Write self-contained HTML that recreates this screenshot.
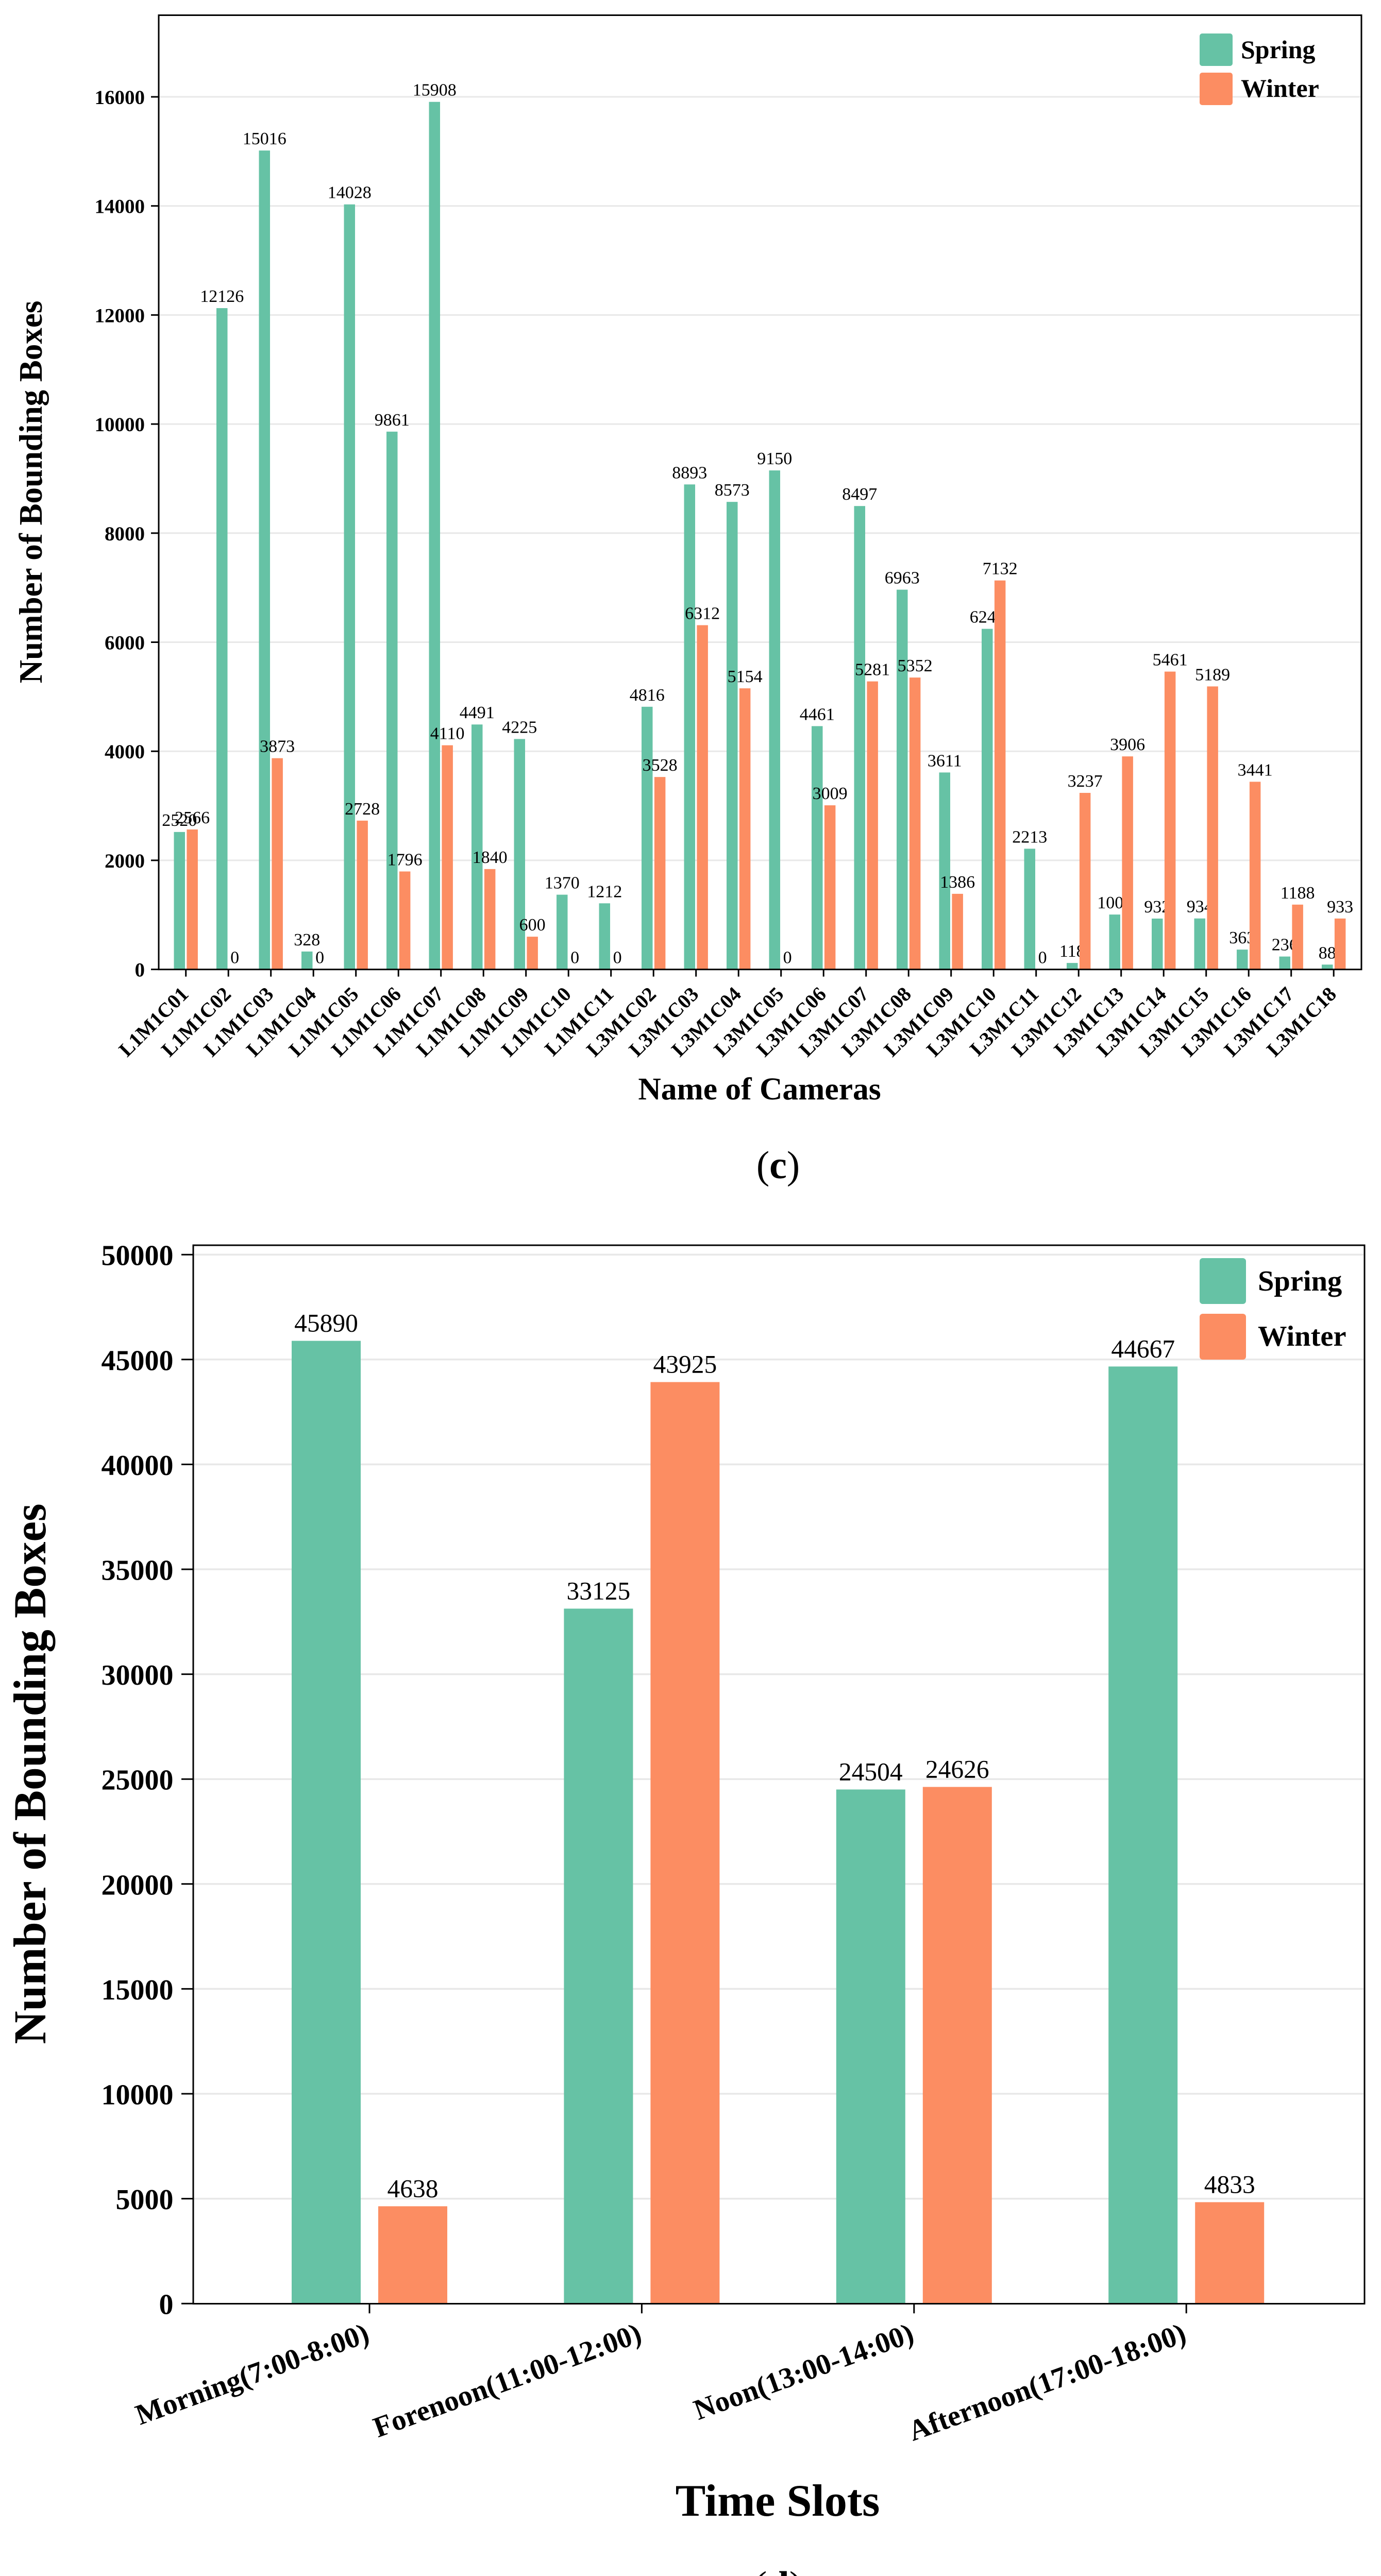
<!DOCTYPE html>
<html lang="en">
<head>
<meta charset="utf-8">
<title>Number of Bounding Boxes by Camera and Time Slot</title>
<style>
html,body{margin:0;padding:0;background:#fff;}
body{width:2680px;height:5069px;overflow:hidden;}
svg{display:block;}
text{font-family:"Liberation Serif",serif;fill:#000;}
.b{font-weight:bold;}
</style>
</head>
<body>
<svg id="figure" xmlns="http://www.w3.org/2000/svg" width="2680" height="5069" viewBox="0 0 2680 5069">
  <rect x="0" y="0" width="2680" height="5069" fill="#ffffff"/>

  <g id="chartC">
    <g id="gridC"></g>
    <g id="marksC"></g>
    <g id="axisC"></g>
    <rect x="308" y="29.5" width="2334" height="1852.2" fill="none" stroke="#000" stroke-width="3"/>
    <text class="b" transform="translate(81,955) rotate(-90)" text-anchor="middle" font-size="63">Number of Bounding Boxes</text>
    <text class="b" x="1474" y="2134" text-anchor="middle" font-size="61.5">Name of Cameras</text>
    <g>
      <g>
        <rect x="2328" y="65" width="64" height="63" rx="5" fill="#66c2a5"/>
        <text class="b" x="2408" y="113" font-size="50">Spring</text>
      </g>
      <g>
        <rect x="2328" y="141" width="64" height="63" rx="5" fill="#fc8d62"/>
        <text class="b" x="2408" y="188" font-size="50">Winter</text>
      </g>
    </g>
    <text x="1510" y="2287" text-anchor="middle" font-size="76">(<tspan font-weight="bold">c</tspan>)</text>
  </g>

  <g id="chartD">
    <g id="gridD"></g>
    <g id="marksD"></g>
    <g id="axisD"></g>
    <rect x="375" y="2417" width="2273" height="2054.5" fill="none" stroke="#000" stroke-width="3"/>
    <text class="b" transform="translate(88,3443) rotate(-90)" text-anchor="middle" font-size="89">Number of Bounding Boxes</text>
    <text class="b" x="1509" y="4883" text-anchor="middle" font-size="88">Time Slots</text>
    <g>
      <g>
        <rect x="2328" y="2442" width="90" height="89" rx="6" fill="#66c2a5"/>
        <text class="b" x="2441" y="2505" font-size="56.5">Spring</text>
      </g>
      <g>
        <rect x="2328" y="2550" width="90" height="89" rx="6" fill="#fc8d62"/>
        <text class="b" x="2441" y="2612" font-size="56.5">Winter</text>
      </g>
    </g>
    <text x="1510" y="5045" text-anchor="middle" font-size="78">(<tspan font-weight="bold">d</tspan>)</text>
  </g>
</svg>

<script>
// Chart (c): bounding boxes per camera
const cameraCategories = ['L1M1C01','L1M1C02','L1M1C03','L1M1C04','L1M1C05','L1M1C06','L1M1C07','L1M1C08','L1M1C09','L1M1C10','L1M1C11','L3M1C02','L3M1C03','L3M1C04','L3M1C05','L3M1C06','L3M1C07','L3M1C08','L3M1C09','L3M1C10','L3M1C11','L3M1C12','L3M1C13','L3M1C14','L3M1C15','L3M1C16','L3M1C17','L3M1C18'];
const cameraSpring = [2520,12126,15016,328,14028,9861,15908,4491,4225,1370,1212,4816,8893,8573,9150,4461,8497,6963,3611,6245,2213,118,1006,932,934,363,236,88];
const cameraWinter = [2566,0,3873,0,2728,1796,4110,1840,600,0,0,3528,6312,5154,0,3009,5281,5352,1386,7132,0,3237,3906,5461,5189,3441,1188,933];
const cameraYTicks = [0,2000,4000,6000,8000,10000,12000,14000,16000];

// Chart (d): bounding boxes per time slot
const slotCategories = ['Morning(7:00-8:00)','Forenoon(11:00-12:00)','Noon(13:00-14:00)','Afternoon(17:00-18:00)'];
const slotSpring = [45890,33125,24504,44667];
const slotWinter = [4638,43925,24626,4833];
const slotYTicks = [0,5000,10000,15000,20000,25000,30000,35000,40000,45000,50000];

const SVG_NS = 'http://www.w3.org/2000/svg';
const SPRING_COLOR = '#66c2a5';
const WINTER_COLOR = '#fc8d62';
const GRID_COLOR = '#e8e8e8';

function shape(tag, parent, attrs) {
  const node = document.createElementNS(SVG_NS, tag);
  for (const key in attrs) node.setAttribute(key, attrs[key]);
  parent.appendChild(node);
  return node;
}

// Axis functions for chart (c)
function cameraX(i) { return 360.7 + i * 82.5; }
function cameraY(v) { return 1881.6 - v * 0.10585; }

// Axis functions for chart (d)
function slotX(i) { return 717 + i * 528.4; }
function slotY(v) { return 4471.2 - v * 0.04072; }

function drawCamera() {
  const grid = document.getElementById('gridC');
  const axis = document.getElementById('axisC');
  const marks = document.getElementById('marksC');

  cameraYTicks.forEach(function (t) {
    const y = cameraY(t);
    if (t > 0) {
      const line = shape('line', grid, {x1: 308, x2: 2640, y1: y, y2: y, stroke: GRID_COLOR, 'stroke-width': 3});
      
      
    }
    const tick = shape('line', axis, {x1: 293, x2: 308, y1: y, y2: y, stroke: '#000', 'stroke-width': 3});
    
    
    const label = shape('text', axis, {x: 281, y: y + 14, 'text-anchor': 'end', 'font-size': 39, 'font-weight': 'bold'});
    label.textContent = String(t);
    
    
  });

  cameraCategories.forEach(function (cat, i) {
    const x = cameraX(i);
    const y0 = cameraY(0);
    const tick = shape('line', axis, {x1: x, x2: x, y1: y0, y2: y0 + 14, stroke: '#000', 'stroke-width': 3});
    
    
    const label = shape('text', axis, {transform: 'translate(' + (x + 7.3) + ',1932) rotate(-45)', 'text-anchor': 'end', 'font-size': 39.6, 'font-weight': 'bold'});
    label.textContent = cat;
    
    

    const sv = cameraSpring[i];
    const bar = shape('rect', marks, {x: x - 23.2, y: cameraY(sv), width: 21.5, height: y0 - cameraY(sv), fill: SPRING_COLOR});
    
    
    const val = shape('text', marks, {x: x - 12.4, y: cameraY(sv) - 12, 'text-anchor': 'middle', 'font-size': 34});
    val.textContent = String(sv);
    
    
  });

  cameraCategories.forEach(function (cat, i) {
    const x = cameraX(i);
    const y0 = cameraY(0);
    const wv = cameraWinter[i];
    const bar = shape('rect', marks, {x: x + 1.7, y: cameraY(wv), width: 21.5, height: y0 - cameraY(wv), fill: WINTER_COLOR});
    
    
  });

  cameraCategories.forEach(function (cat, i) {
    const x = cameraX(i);
    const wv = cameraWinter[i];
    const val = shape('text', marks, {x: x + 12.4, y: cameraY(wv) - 12, 'text-anchor': 'middle', 'font-size': 34});
    val.textContent = String(wv);
    
    
  });
}

function drawSlots() {
  const grid = document.getElementById('gridD');
  const axis = document.getElementById('axisD');
  const marks = document.getElementById('marksD');

  slotYTicks.forEach(function (t) {
    const y = slotY(t);
    if (t > 0) {
      const line = shape('line', grid, {x1: 376, x2: 2646, y1: y, y2: y, stroke: GRID_COLOR, 'stroke-width': 3.5});
      
      
    }
    const tick = shape('line', axis, {x1: 352, x2: 375, y1: y, y2: y, stroke: '#000', 'stroke-width': 3});
    
    
    const label = shape('text', axis, {x: 336.5, y: y + 20.5, 'text-anchor': 'end', 'font-size': 56, 'font-weight': 'bold'});
    label.textContent = String(t);
    
    
  });

  slotCategories.forEach(function (cat, i) {
    const x = slotX(i);
    const y0 = slotY(0);
    const tick = shape('line', axis, {x1: x, x2: x, y1: y0, y2: y0 + 19, stroke: '#000', 'stroke-width': 3});
    
    
    const label = shape('text', axis, {transform: 'translate(' + (x + 3) + ',4544) rotate(-20)', 'text-anchor': 'end', 'font-size': 56.5, 'font-weight': 'bold'});
    label.textContent = cat;
    
    

    const sv = slotSpring[i];
    const sBar = shape('rect', marks, {x: x - 151, y: slotY(sv), width: 134, height: y0 - slotY(sv), fill: SPRING_COLOR});
    
    
    const sVal = shape('text', marks, {x: x - 84, y: slotY(sv) - 18, 'text-anchor': 'middle', 'font-size': 49.5});
    sVal.textContent = String(sv);
    
    

    const wv = slotWinter[i];
    const wBar = shape('rect', marks, {x: x + 17, y: slotY(wv), width: 134, height: y0 - slotY(wv), fill: WINTER_COLOR});
    
    
    const wVal = shape('text', marks, {x: x + 84, y: slotY(wv) - 18, 'text-anchor': 'middle', 'font-size': 49.5});
    wVal.textContent = String(wv);
    
    
  });
}

drawCamera();
drawSlots();
</script>
</body>
</html>
